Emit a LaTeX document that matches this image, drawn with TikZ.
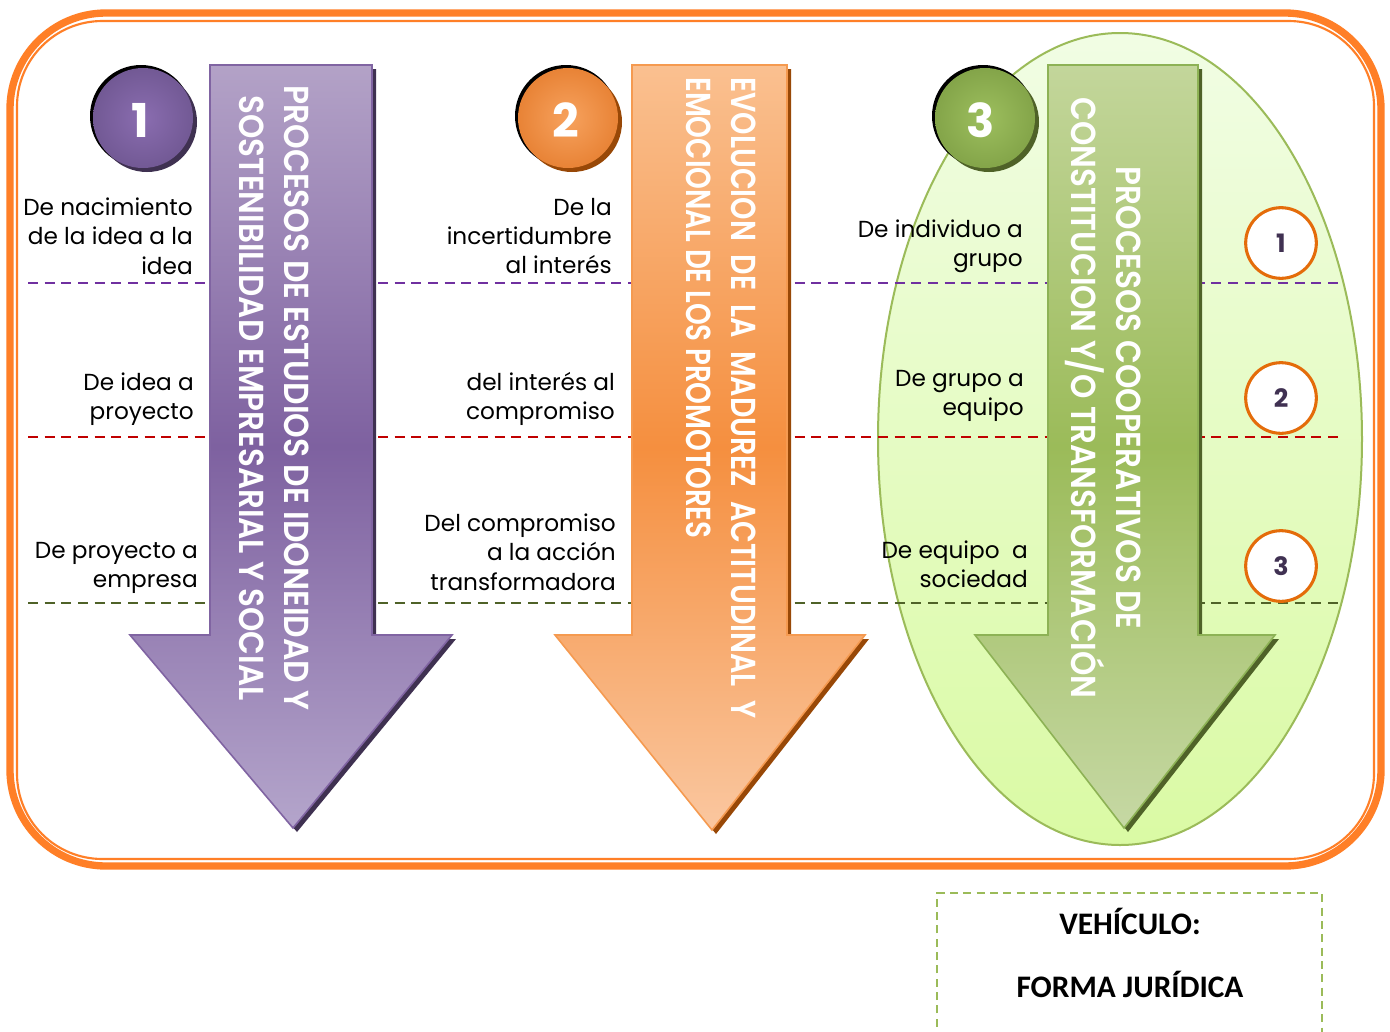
\documentclass[tikz,border=0pt]{standalone}
\usepackage{fontspec}
\usepackage{graphicx}
\setmainfont{Poppins}
\newfontfamily\arrowfont{Poppins}[BoldFont={Poppins SemiBold}]
\newfontfamily\boxfont{Carlito}
\usetikzlibrary{shadings}
\definecolor{frameor}{HTML}{FF7F27}
\definecolor{purpA}{HTML}{B3A2C7}
\definecolor{purpB}{HTML}{7E61A0}
\definecolor{purpC}{HTML}{B4A5CB}
\definecolor{purpD}{HTML}{3F3151}
\definecolor{purpE}{HTML}{8064A2}
\definecolor{purpL}{HTML}{8A6DB0}
\definecolor{purpM}{HTML}{5A4579}
\definecolor{oraA}{HTML}{FAC090}
\definecolor{oraB}{HTML}{F58F3F}
\definecolor{oraC}{HTML}{FAC7A0}
\definecolor{oraD}{HTML}{984807}
\definecolor{oraE}{HTML}{F59A50}
\definecolor{oraL}{HTML}{F7A25E}
\definecolor{oraM}{HTML}{D9640E}
\definecolor{greA}{HTML}{C3D69B}
\definecolor{greB}{HTML}{9BBB59}
\definecolor{greC}{HTML}{C6D8A4}
\definecolor{greD}{HTML}{4F6228}
\definecolor{greE}{HTML}{8DB255}
\definecolor{greL}{HTML}{9DBF5E}
\definecolor{greM}{HTML}{6A8A34}
\definecolor{ellA}{HTML}{F1FDE4}
\definecolor{ellB}{HTML}{DAFAA4}
\definecolor{ringor}{HTML}{E46C0A}
\definecolor{numcol}{HTML}{403152}
\definecolor{dpurp}{HTML}{7030A0}
\definecolor{dred}{HTML}{C00000}
\definecolor{dgreen}{HTML}{4F6228}
\pgfdeclareradialshading{ballpurp}{\pgfpoint{0bp}{0bp}}{color(0bp)=(purpL); color(50bp)=(purpM)}
\pgfdeclareradialshading{ballora}{\pgfpoint{0bp}{0bp}}{color(0bp)=(oraL); color(50bp)=(oraM)}
\pgfdeclareradialshading{ballgre}{\pgfpoint{0bp}{0bp}}{color(0bp)=(greL); color(50bp)=(greM)}
\begin{document}
\begin{tikzpicture}[x=0.75pt,y=-0.75pt,
  sidetext/.style={font=\fontsize{17.4}{22}\selectfont, align=right, anchor=east, inner sep=0pt, text=black},
  arrowtext/.style={font=\arrowfont\bfseries\fontsize{26}{34}\selectfont, text=white, rotate=-90, inner sep=0pt},
  sepline/.style={dash pattern=on 7.5pt off 5pt, line width=1.5pt},
  ring/.style={circle, draw=ringor, line width=2.3pt, fill=white, minimum size=53pt, inner sep=0pt, text=numcol, font=\bfseries\fontsize{19}{20}\selectfont},
  bignum/.style={text=white, font=\bfseries\fontsize{35}{36}\selectfont, inner sep=0pt},
  boxtext/.style={font=\boxfont\bfseries\fontsize{23.5}{25}\selectfont, inner sep=0pt}
]
\useasboundingbox (0,0) rectangle (1390,1032);
\fill[white] (0,0) rectangle (1390,1032);
% frame
\draw[frameor, line width=5.5pt, rounded corners=72] (10,13) rectangle (1381,866);
\draw[frameor, line width=1.6pt, rounded corners=64] (17,21) rectangle (1374,859);
% ellipse
\path[draw=greB, line width=1.5pt, top color=ellA, bottom color=ellB] (1120,439) ellipse [x radius=242, y radius=406];
% separator lines
\draw[sepline, dpurp] (28,283) -- (1340,283);
\draw[sepline, dred] (28,437) -- (1340,437);
\draw[sepline, dgreen] (28,603) -- (1340,603);
% arrow 1
\fill[purpD] (214,69) -- (376,69) -- (376,639) -- (456,639) -- (297,832) -- (134,639) -- (214,639) -- cycle;
\path[draw=purpE, line width=1.2pt, top color=purpA, bottom color=purpC, middle color=purpB]
  (210,65) -- (372,65) -- (372,635) -- (452,635) -- (293,828) -- (130,635) -- (210,635) -- cycle;
% arrow 2
\fill[oraD] (636,69) -- (791,69) -- (791,639) -- (869,639) -- (716,834) -- (559,639) -- (636,639) -- cycle;
\path[draw=oraE, line width=1.2pt, top color=oraA, bottom color=oraC, middle color=oraB]
  (632,65) -- (787,65) -- (787,635) -- (865,635) -- (712,830) -- (555,635) -- (632,635) -- cycle;
% arrow 3
\fill[greD] (1052,69) -- (1202,69) -- (1202,639) -- (1279,639) -- (1128,832) -- (979,639) -- (1052,639) -- cycle;
\path[draw=greE, line width=1.2pt, top color=greA, bottom color=greC, middle color=greB]
  (1048,65) -- (1198,65) -- (1198,635) -- (1275,635) -- (1124,828) -- (975,635) -- (1048,635) -- cycle;
% arrow texts
\node[arrowtext, align=center] (t1) at (274,398) {\resizebox{469pt}{\height}{PROCESOS DE ESTUDIOS DE IDONEIDAD Y}\\\resizebox{454pt}{\height}{SOSTENIBILIDAD EMPRESARIAL Y SOCIAL}};
\node[arrowtext, align=left, anchor=west] (t2) at (721,77) {\resizebox{481pt}{\height}{\makebox[585pt][s]{EVOLUCION\hfill DE\hfill LA\hfill MADUREZ\hfill ACTITUDINAL\hfill Y}}\\\resizebox{346pt}{\height}{EMOCIONAL DE LOS PROMOTORES}};
\node[arrowtext, align=center] (t3) at (1103,398) {\resizebox{347pt}{\height}{PROCESOS COOPERATIVOS DE}\\\resizebox{451pt}{\height}{CONSTITUCION Y/O TRANSFORMACIÓN}};
% big number circles
\fill[black] (141,116) circle (51);
\fill[purpD] (147,122) circle (50);
\path[shading=ballpurp] (143,118) circle (50);
\node[bignum] (n1) at (140,120) {1};
\fill[black] (566,116) circle (51);
\fill[oraD] (572,122) circle (50);
\path[shading=ballora] (568,118) circle (50);
\node[bignum] (n2) at (566,120) {2};
\fill[black] (983,116) circle (51);
\fill[greD] (989,122) circle (50);
\path[shading=ballgre] (985,118) circle (50);
\node[bignum] (n3) at (981,120) {3};
% rings
\node[ring] (r1) at (1281,243) {1};
\node[ring] (r2) at (1281,398) {2};
\node[ring] (r3) at (1281,566) {3};
% side texts
\node[sidetext] (a1) at (193,236) {De nacimiento\\de la idea a la\\idea};
\node[sidetext] (a2) at (194,399) {De idea a\\proyecto};
\node[sidetext] (a3) at (198,568) {De proyecto a\\empresa};
\node[sidetext] (b1) at (612,236) {De la\\incertidumbre\\al interés};
\node[sidetext] (b2) at (615,399) {del interés al\\compromiso};
\node[sidetext] (b3) at (616,552) {Del compromiso\\a la acción\\transformadora};
\node[sidetext] (c1) at (1023,246) {De individuo a\\grupo};
\node[sidetext] (c2) at (1024,396) {De grupo a\\equipo};
\node[sidetext] (c3) at (1028,564) {De equipo~~a\\sociedad};
% vehicle box
\draw[greB, line width=2pt, dash pattern=on 6pt off 4pt] (937,1040) -- (937,893) -- (1322,893) -- (1322,1040);
\node[boxtext] (v1) at (1130,921) {VEHÍCULO:};
\node[boxtext] (v2) at (1130,984) {FORMA JURÍDICA};
\end{tikzpicture}
\end{document}
